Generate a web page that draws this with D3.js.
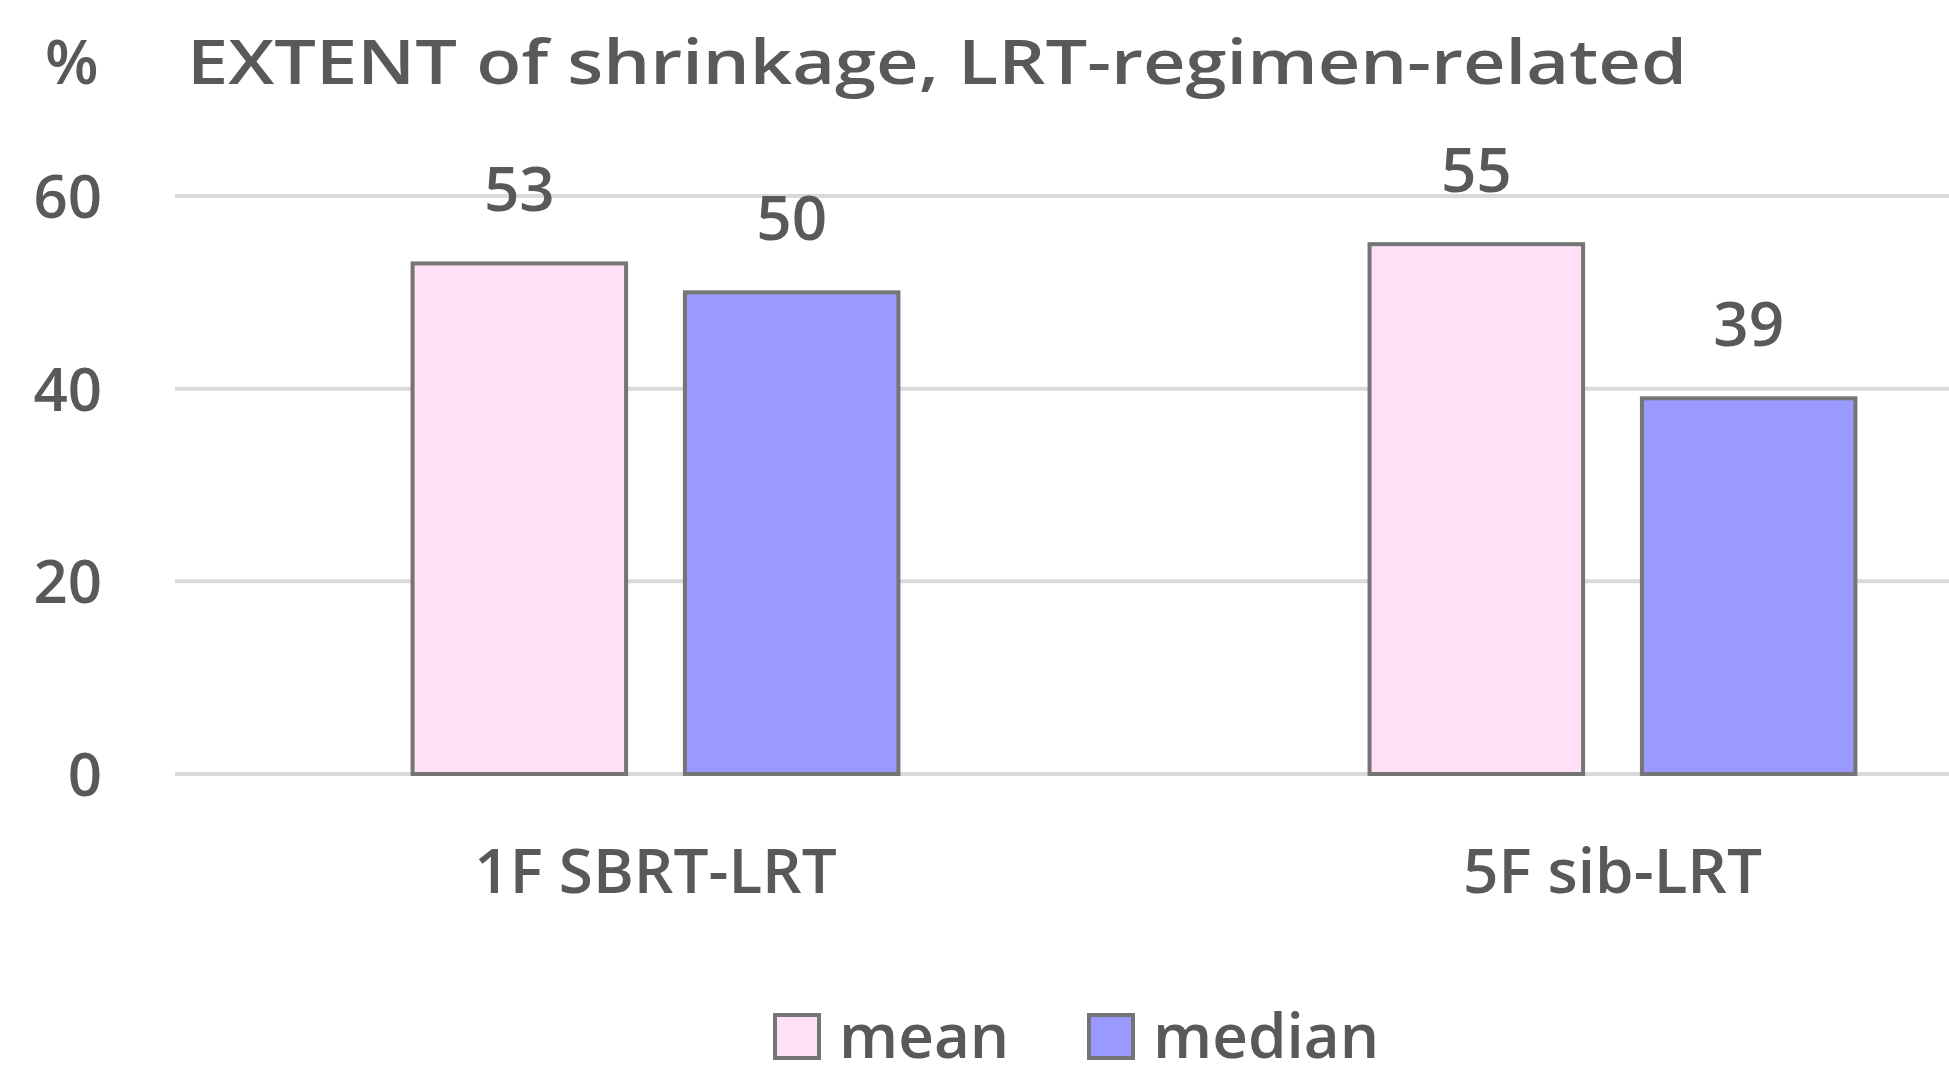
<!DOCTYPE html>
<html><head><meta charset="utf-8">
<script src="https://cdn.jsdelivr.net/npm/d3@7"></script>
<style>body{margin:0;background:#fff}text{font-family:"Open Sans",sans-serif;font-weight:600;fill:#595959}</style>
</head><body>
<svg id="c" width="1949" height="1087"></svg>
<script>
const categories = ['1F SBRT-LRT', '5F sib-LRT']
const series = ['mean', 'median']
const meanValues = [53, 55]
const medianValues = [50, 39]
const yTicks = [0, 20, 40, 60]
const colors = ['#FFE0F7', '#9999FF']

const svg = d3.select('#c')
const x = d3.scaleBand().domain(categories).range([177, 2091])
const inner = d3.scaleBand().domain(series).range([0, x.bandwidth()]).paddingInner(0.216).paddingOuter(0.865)
const y = d3.scaleLinear().domain([0, 60]).range([774, 196])

// grid
svg.append('g').selectAll('line').data(yTicks).enter().append('line')
    .attr('x1', 175).attr('x2', 1949)
    .attr('y1', d => y(d)).attr('y2', d => y(d))
    .attr('stroke', '#d9d9d9').attr('stroke-width', 4)

svg.append('g').selectAll('text').data(yTicks).enter().append('text')
    .attr('x', 102).attr('y', d => y(d) + 22)
    .attr('text-anchor', 'end').attr('font-size', 60)
    .text(d => d)

const rows = []
categories.forEach((c, i) => {
    rows.push({ c: c, s: 'mean', v: meanValues[i] })
    rows.push({ c: c, s: 'median', v: medianValues[i] })
})

svg.append('g').selectAll('rect').data(rows).enter().append('rect')
    .attr('x', d => x(d.c) + inner(d.s))
    .attr('width', inner.bandwidth())
    .attr('y', d => y(d.v))
    .attr('height', d => y(0) - y(d.v))
    .attr('fill', d => colors[series.indexOf(d.s)])
    .attr('stroke', '#757575').attr('stroke-width', 4)

svg.append('g').selectAll('text').data(rows).enter().append('text')
    .attr('x', d => x(d.c) + inner(d.s) + inner.bandwidth() / 2)
    .attr('y', d => y(d.v) - 52)
    .attr('text-anchor', 'middle').attr('font-size', 62)
    .text(d => d.v)

svg.append('g').selectAll('text').data(categories).enter().append('text')
    .attr('x', d => x(d) + x.bandwidth() / 2)
    .attr('y', 893)
    .attr('text-anchor', 'middle').attr('font-size', 62)
    .text(d => d)

// title
svg.append('text').attr('x', 45).attr('y', 84).attr('font-size', 62).text('%')
svg.append('text').attr('x', 187).attr('y', 84).attr('font-size', 62)
    .attr('textLength', 1500).attr('lengthAdjust', 'spacingAndGlyphs')
    .text('EXTENT of shrinkage, LRT-regimen-related')

// legend
const legX = [775, 1089]
const lg = svg.append('g').selectAll('g').data(series).enter().append('g')
lg.append('rect').attr('x', (d, i) => legX[i]).attr('y', 1015)
    .attr('width', 44).attr('height', 43)
    .attr('fill', (d, i) => colors[i]).attr('stroke', '#757575').attr('stroke-width', 4)
lg.append('text').attr('x', (d, i) => legX[i] + 64).attr('y', 1058)
    .attr('font-size', 62).text(d => d)
</script>
</body></html>
